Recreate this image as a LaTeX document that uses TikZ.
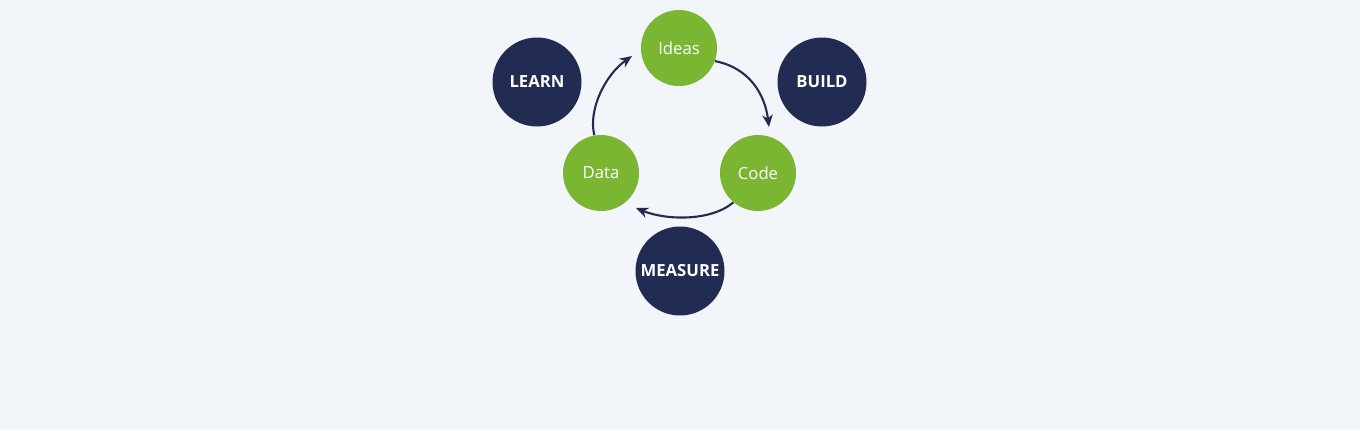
\documentclass[tikz,border=0pt]{standalone}
\usepackage{fontspec}
\setmainfont{Open Sans}
\usetikzlibrary{arrows.meta}
\definecolor{bg}{HTML}{F2F5FA}
\definecolor{grn}{HTML}{7AB632}
\definecolor{navy}{HTML}{222C52}
\tikzset{
 gnode/.style={circle,fill=grn,minimum size=76*0.02cm,inner sep=0pt,text=white,font=\fontsize{9.5}{11}\selectfont},
 dnode/.style={circle,fill=navy,minimum size=89*0.02cm,inner sep=0pt,text=white,font=\fontsize{9.5}{11}\selectfont\bfseries},
 cyc/.style={draw=navy,line width=1.2pt,-{Stealth[length=7pt,width=6pt]}}
}
\begin{document}
\begin{tikzpicture}[x=0.02cm,y=-0.02cm]
\fill[bg] (0,0) rectangle (1360,430);
\useasboundingbox (0,0) rectangle (1360,430);
\node[gnode] (ideas) at (679,48) {Ideas};
\node[gnode] (code) at (758,173) {Code};
\node[gnode] (data) at (601,173) {Data};
\node[dnode] (learn) at (537,82) {LEARN};
\node[dnode] (build) at (822,82) {BUILD};
\node[dnode] (measure) at (680,271) {MEASURE};
\coordinate (a1) at (769,127);
\coordinate (a2) at (636,208);
\coordinate (a3) at (632,56);
\draw[cyc] (ideas.-20) .. controls (750,68) and (765,95) .. (a1);
\draw[cyc] (code.-130) .. controls (710,222) and (665,220) .. (a2);
\draw[cyc] (data.100) .. controls (588,110) and (605,75) .. (a3);
\end{tikzpicture}
\end{document}
